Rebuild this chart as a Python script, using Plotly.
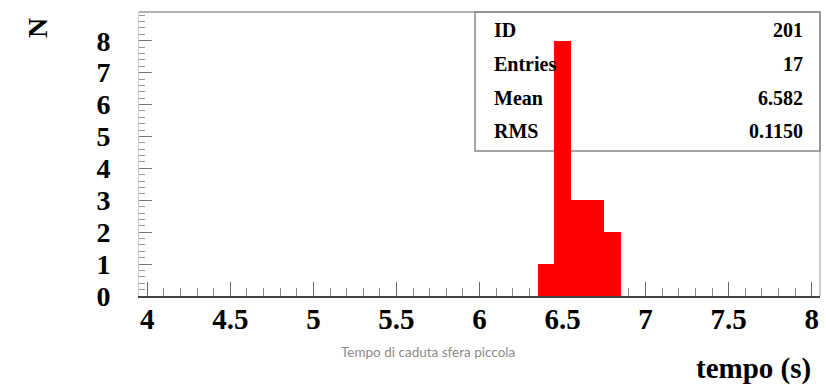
import plotly.graph_objects as go

# Histogram data (bin centres, bin width 0.1)
bin_centers = [6.4, 6.5, 6.6, 6.7, 6.8]
counts = [1, 8, 3, 3, 2]
bin_width = 0.1

stat_labels = ["ID", "Entries", "Mean", "RMS"]
stat_values = ["201", "17", "6.582", "0.1150"]

x_title = "tempo (s)"
y_title = "N"
subtitle = "Tempo di caduta sfera piccola"

W, H = 826, 385
L, R, T, B = 139, 6, 12, 89
pw, ph = W - L - R, H - T - B

def px_x(p):
    return (p - L) / pw

def px_y(p):
    return (H - B - p) / ph

serif = "Liberation Serif, Times New Roman, serif"

fig = go.Figure()
fig.add_trace(go.Bar(
    x=bin_centers, y=counts, width=[bin_width] * len(counts),
    marker=dict(color="#ff0000", line=dict(width=0)),
    showlegend=False, hoverinfo="skip"))

fig.update_layout(
    width=W, height=H,
    margin=dict(l=L, r=R, t=T, b=B),
    paper_bgcolor="white", plot_bgcolor="white",
    bargap=0,
    xaxis=dict(
        range=[3.95, 8.05], tick0=4, dtick=0.5,
        ticks="inside", ticklen=14, tickcolor="#666", tickwidth=1,
        minor=dict(dtick=0.1, ticks="inside", ticklen=8, tickcolor="#888"),
        showgrid=False, zeroline=False,
        showline=True, linecolor="#444", linewidth=1.5,
        tickfont=dict(family=serif, size=29, color="black", weight="bold"),
        layer="below traces", ticklabelstandoff=-4,
    ),
    yaxis=dict(
        range=[0, 8.9], tick0=0, dtick=1,
        ticks="inside", ticklen=13, tickcolor="#777", tickwidth=1,
        minor=dict(dtick=0.2, ticks="inside", ticklen=6, tickcolor="#999"),
        showgrid=False, zeroline=False,
        showline=True, linecolor="#cccccc", linewidth=1,
        tickfont=dict(family=serif, size=28, color="black", weight="bold"),
        layer="below traces", ticklabelstandoff=22,
    ),
)

# frame top and right
fig.add_shape(type="line", xref="paper", yref="paper", x0=0, x1=1, y0=1, y1=1,
              line=dict(color="#999", width=1.5), layer="below")
fig.add_shape(type="line", xref="paper", yref="paper", x0=1, x1=1, y0=0, y1=1,
              line=dict(color="#aaa", width=1.2), layer="below")

# stats box
bx0 = px_x(475)
by0 = px_y(151)
fig.add_shape(type="rect", xref="paper", yref="paper", x0=bx0, x1=1, y0=by0, y1=1,
              line=dict(color="#888", width=1.5), fillcolor="rgba(0,0,0,0)", layer="below")

row_y = [30, 64, 98, 131]
for lab, val, yy in zip(stat_labels, stat_values, row_y):
    fig.add_annotation(x=px_x(492), y=px_y(yy), xref="paper", yref="paper",
                       text=lab, showarrow=False, xanchor="left", yanchor="middle",
                       font=dict(family=serif, size=20, color="black", weight="bold"))
    fig.add_annotation(x=px_x(805), y=px_y(yy), xref="paper", yref="paper",
                       text=val, showarrow=False, xanchor="right", yanchor="middle",
                       font=dict(family=serif, size=20, color="black", weight="bold"))

# axis titles
fig.add_annotation(x=px_x(37), y=px_y(28), xref="paper", yref="paper",
                   text=y_title, showarrow=False, textangle=-90,
                   xanchor="center", yanchor="middle",
                   font=dict(family=serif, size=28, color="black", weight="bold"))
fig.add_annotation(x=px_x(813), y=px_y(368), xref="paper", yref="paper",
                   text=x_title, showarrow=False, xanchor="right", yanchor="middle",
                   font=dict(family=serif, size=29, color="black", weight="bold"))
fig.add_annotation(x=px_x(428), y=px_y(352), xref="paper", yref="paper",
                   text=subtitle, showarrow=False, xanchor="center", yanchor="middle",
                   font=dict(family="Lato, sans-serif", size=13.5, color="#8a8a8a"))

fig.write_html("out.html")
